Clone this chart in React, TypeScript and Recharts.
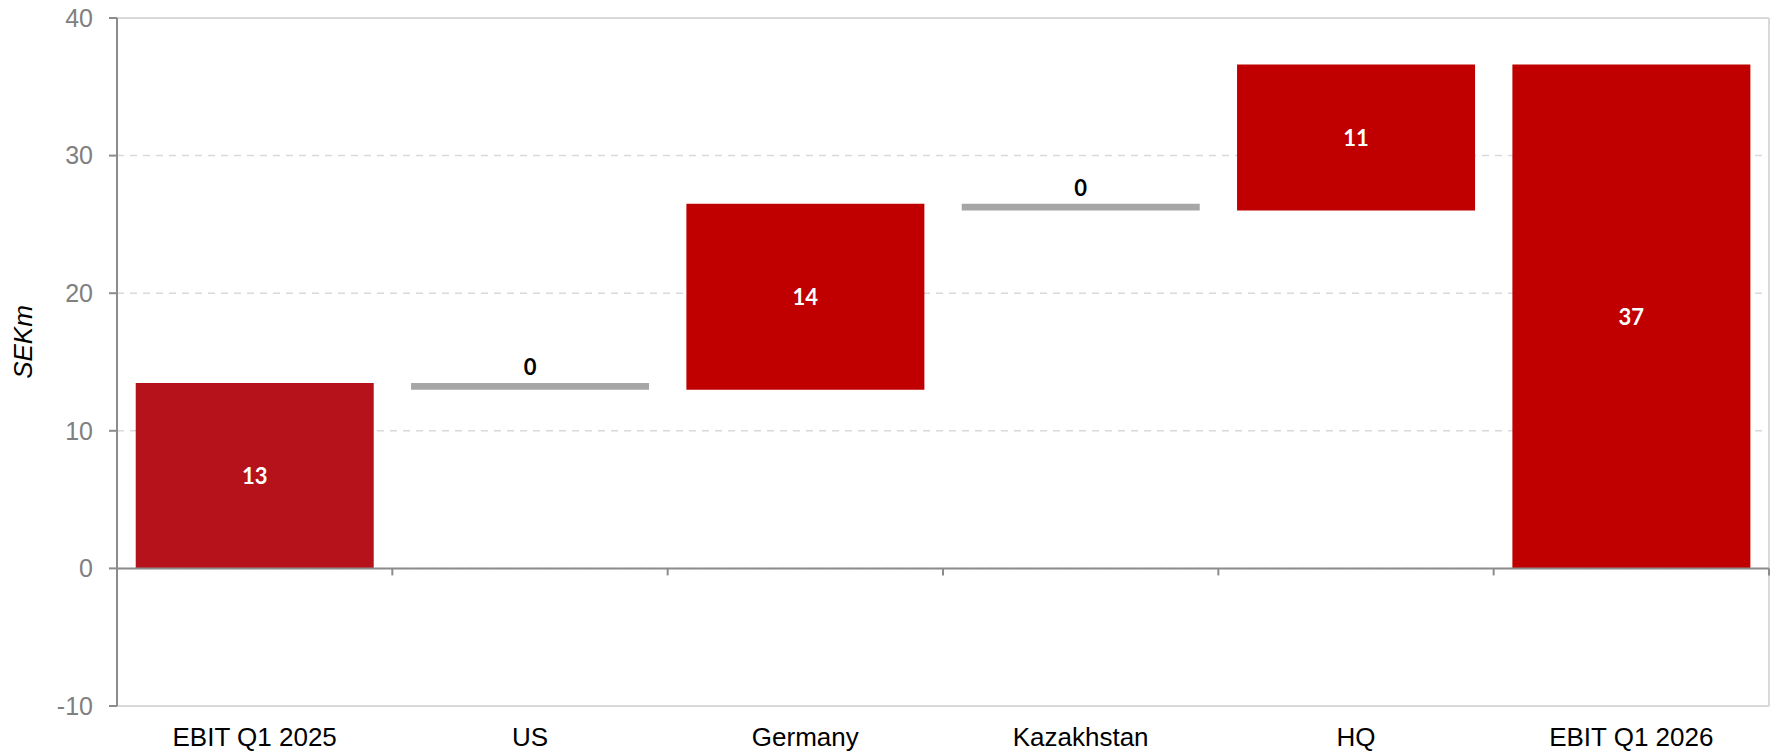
import React from 'react';
import {
  BarChart,
  Bar,
  XAxis,
  YAxis,
  CartesianGrid,
  ReferenceLine,
  LabelList,
  Cell
} from 'recharts';

const categories = ['EBIT Q1 2025', 'US', 'Germany', 'Kazakhstan', 'HQ', 'EBIT Q1 2026'];
// opening EBIT, then the change from each segment; closing EBIT is the running sum
const openingEbit = 13.47;
const segmentChanges = [-0.49, 13.52, -0.49, 10.61];
const yTicks = [-10, 0, 10, 20, 30, 40];

const COLORS = {
  start: '#B5121B',
  up: '#C00000',
  down: '#A6A6A6',
  total: '#C00000'
};

type Kind = keyof typeof COLORS;

interface Step {
  name: string;
  range: [number, number];
  value: number;
  kind: Kind;
}

function buildSteps(): Step[] {
  const steps: Step[] = [
    { name: categories[0], range: [0, openingEbit], value: openingEbit, kind: 'start' }
  ];
  let level = openingEbit;
  segmentChanges.forEach((change, i) => {
    const from = level;
    level += change;
    steps.push({
      name: categories[i + 1],
      range: [Math.min(from, level), Math.max(from, level)],
      value: change,
      kind: change < 0 ? 'down' : 'up'
    });
  });
  steps.push({ name: categories[categories.length - 1], range: [0, level], value: level, kind: 'total' });
  return steps;
}

const steps = buildSteps();

const fmt = (v: number) => String(Math.round(v)).replace('-0', '0');

// red bars get a white label in the middle, grey steps a black label on top
const StepLabel = (props: any) => {
  const { x, y, width, height, index, value } = props;
  const step = steps[index];
  const cx = x + width / 2;
  if (step.kind === 'down') {
    return (
      <text x={cx} y={y - 8} textAnchor="middle" fill="#000" fontFamily="Lato" fontWeight={700} fontSize={22}>
        {fmt(value)}
      </text>
    );
  }
  return (
    <text
      x={cx}
      y={y + height / 2}
      textAnchor="middle"
      dominantBaseline="central"
      fill="#FFF"
      fontFamily="Lato"
      fontWeight={700}
      fontSize={22}
    >
      {fmt(value)}
    </text>
  );
};

// zero line with small ticks between the categories
const ZeroAxis = (props: any) => {
  const { x1, x2, y1 } = props;
  const band = (x2 - x1) / categories.length;
  return (
    <g>
      <line x1={x1} x2={x2} y1={y1} y2={y1} stroke="#8C8C8C" strokeWidth={2} />
      {categories.map((c, i) => {
        const x = x1 + band * (i + 1);
        return <line key={c} x1={x} x2={x} y1={y1} y2={y1 + 7} stroke="#8C8C8C" strokeWidth={2} />;
      })}
    </g>
  );
};

const AxisTitle = (props: any) => {
  const { viewBox } = props;
  const x = viewBox.x + 23;
  const y = viewBox.y + viewBox.height / 2 - 20;
  return (
    <text
      x={x}
      y={y}
      transform={`rotate(-90 ${x} ${y})`}
      textAnchor="middle"
      dominantBaseline="central"
      fontFamily="Liberation Sans"
      fontStyle="italic"
      fontSize={26}
      fill="#000"
    >
      SEKm
    </text>
  );
};

export default function App() {
  return (
    <div style={{ position: 'absolute', left: 0, top: 0, width: 1775, height: 753, background: '#FFF' }}>
      <BarChart
        width={1775}
        height={753}
        data={steps}
        margin={{ top: 18, right: 6, left: 0, bottom: 7 }}
        barCategoryGap="6.8%"
      >
        <CartesianGrid vertical={false} stroke="#D9D9D9" strokeWidth={1.5} strokeDasharray="7 6" />
        <CartesianGrid
          horizontal={false}
          stroke="#D9D9D9"
          strokeWidth={2}
          verticalCoordinatesGenerator={({ offset }: any) => [offset.left + offset.width]}
        />
        <ReferenceLine y={40} stroke="#D9D9D9" strokeWidth={2} />
        <XAxis
          dataKey="name"
          height={40}
          tickLine={false}
          tickSize={0}
          tickMargin={22}
          axisLine={{ stroke: '#D9D9D9', strokeWidth: 2 }}
          tick={{ fontSize: 26, fill: '#000', fontFamily: 'Liberation Sans' }}
          interval={0}
        />
        <YAxis
          width={117}
          domain={[-10, 40]}
          ticks={yTicks}
          allowDataOverflow
          tickSize={8}
          tickMargin={16}
          axisLine={{ stroke: '#8C8C8C', strokeWidth: 2 }}
          tickLine={{ stroke: '#8C8C8C', strokeWidth: 2 }}
          tick={{ fontSize: 25, fill: '#808080', fontFamily: 'Liberation Sans' }}
          label={<AxisTitle />}
        />
        <Bar dataKey="range" isAnimationActive={false}>
          {steps.map((s) => (
            <Cell key={s.name} fill={COLORS[s.kind]} />
          ))}
          <LabelList dataKey="value" content={<StepLabel />} />
        </Bar>
        <ReferenceLine y={0} shape={<ZeroAxis />} />
      </BarChart>
    </div>
  );
}
